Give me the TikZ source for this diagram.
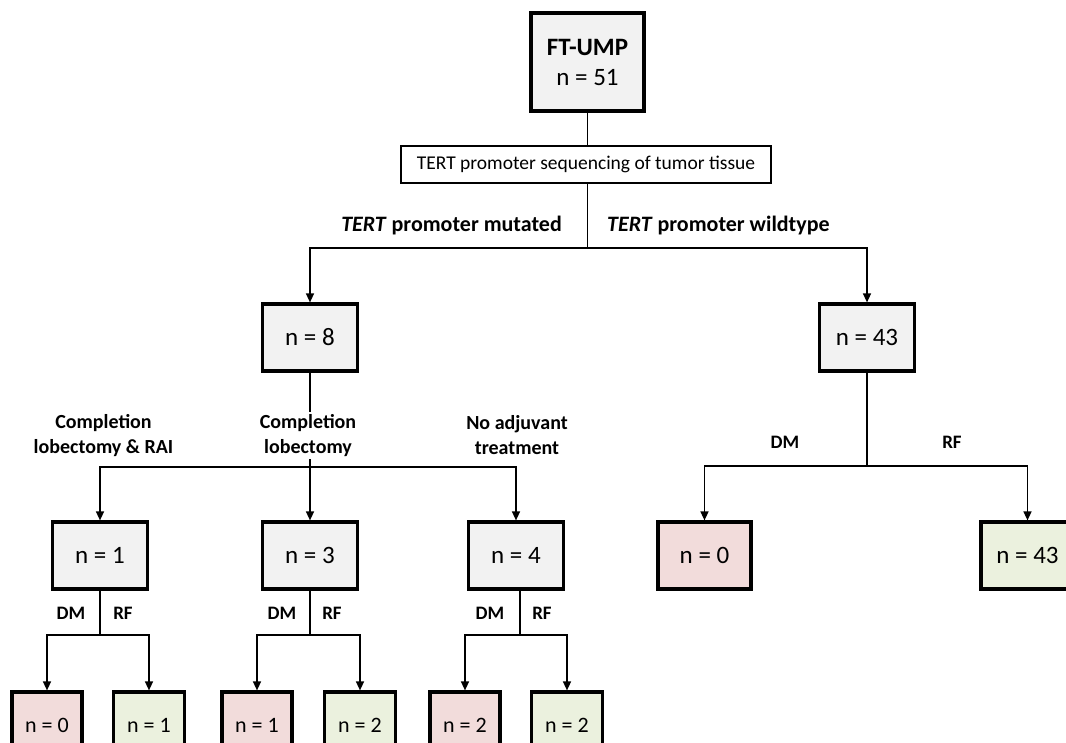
\documentclass[tikz,border=0pt]{standalone}
\usepackage{fontspec}
\setmainfont{Carlito}
\usetikzlibrary{arrows.meta}
\definecolor{gfill}{HTML}{F2F2F2}
\definecolor{pfill}{HTML}{F2DCDB}
\definecolor{vfill}{HTML}{EBF1DE}
\tikzset{
  box/.style={draw=black, line width=3.2pt, inner sep=0pt, align=center, font=\fontsize{25}{30}\selectfont},
  gbox/.style={box, fill=gfill, minimum width=95pt, minimum height=67pt},
  redbox/.style={box, fill=pfill, minimum width=93pt, minimum height=67pt},
  grbox/.style={box, fill=vfill, minimum width=93pt, minimum height=67pt},
  sredbox/.style={box, fill=pfill, minimum width=70pt, minimum height=67pt, font=\fontsize{22}{26}\selectfont},
  sgrbox/.style={box, fill=vfill, minimum width=71pt, minimum height=67pt, font=\fontsize{22}{26}\selectfont},
  conn/.style={draw=black, line width=1.4pt},
  arr/.style={conn, -{Triangle[length=9pt,width=8pt]}},
  lbl/.style={font=\bfseries\fontsize{20}{25}\selectfont, align=center, inner sep=0pt},
  sl/.style={font=\bfseries\fontsize{19}{23}\selectfont, inner sep=0pt},
  ml/.style={font=\bfseries\fontsize{22}{26}\selectfont, inner sep=0pt},
}
\begin{document}
\begin{tikzpicture}[x=1pt,y=-1pt]
\useasboundingbox (0,0) rectangle (1066,742);
% top
\node[box, fill=gfill, minimum width=113pt, minimum height=98pt] (top) at (587.5,62) {\textbf{FT-UMP}\\n = 51};
\node[draw=black, line width=1.4pt, minimum width=370pt, minimum height=37pt, inner sep=0pt, font=\fontsize{19.5}{23}\selectfont] (seq) at (586,164.5) {TERT promoter sequencing of tumor tissue};
\draw[conn] (top.south) -- (top.south |- seq.north);
% level 2
\node[gbox] (n8) at (310,337.5) {n = 8};
\node[gbox] (n43) at (867,337.5) {n = 43};
\coordinate (s1) at (587.5,248);
\draw[conn] (top.south |- seq.south) -- (s1);
\draw[arr] (s1) -| (n8.north);
\draw[arr] (s1) -| (n43.north);
\node[ml, anchor=east] (lmut) at (562,226) {\textit{TERT} promoter mutated};
\node[ml, anchor=west] (lwt) at (607,226) {\textit{TERT} promoter wildtype};
% level 3 left
\node[gbox] (a1) at (100,555.5) {n = 1};
\node[gbox] (a3) at (310,555.5) {n = 3};
\node[gbox] (a4) at (516,555.5) {n = 4};
\coordinate (s2) at (310,467);
\draw[conn] (n8.south) -- (s2);
\draw[arr] (s2) -| (a1.north);
\draw[arr] (s2) -- (a3.north);
\draw[arr] (s2) -| (a4.north);
\node[lbl] (l1) at (103.5,435.5) {Completion\\lobectomy \& RAI};
\node[lbl, fill=white, inner sep=2pt] (l2) at (308,435.5) {Completion\\lobectomy};
\node[lbl] (l3) at (517,435.5) {No adjuvant\\treatment};
% level 3 right
\node[redbox] (r0) at (704.5,555.5) {n = 0};
\node[grbox] (r43) at (1027.5,555.5) {n = 43};
\coordinate (s3) at (867,466);
\draw[conn] (n43.south) -- (s3);
\draw[arr] (s3) -| (r0.north);
\draw[arr] (s3) -| (r43.north);
\node[sl] (dmr) at (785,442) {DM};
\node[sl] (rfr) at (952,442) {RF};
% level 4
\node[sredbox] (b1) at (47,725.5) {n = 0};
\node[sgrbox] (b2) at (149,725.5) {n = 1};
\node[sredbox] (b3) at (257,725.5) {n = 1};
\node[sgrbox] (b4) at (360,725.5) {n = 2};
\node[sredbox] (b5) at (465,725.5) {n = 2};
\node[sgrbox] (b6) at (567,725.5) {n = 2};
\coordinate (t1) at (100,635);
\coordinate (t2) at (310,635);
\coordinate (t3) at (520,635);
\draw[conn] (a1.south -| t1) -- (t1);
\draw[conn] (a3.south -| t2) -- (t2);
\draw[conn] (a4.south -| t3) -- (t3);
\draw[arr] (t1) -| (b1.north);
\draw[arr] (t1) -| (b2.north);
\draw[arr] (t2) -| (b3.north);
\draw[arr] (t2) -| (b4.north);
\draw[arr] (t3) -| (b5.north);
\draw[arr] (t3) -| (b6.north);
\node[sl] (d1) at (71,613) {DM};
\node[sl] (f1) at (123,613) {RF};
\node[sl] (d2) at (282,613) {DM};
\node[sl] (f2) at (332,613) {RF};
\node[sl] (d3) at (490,613) {DM};
\node[sl] (f3) at (542,613) {RF};
\end{tikzpicture}
\end{document}
